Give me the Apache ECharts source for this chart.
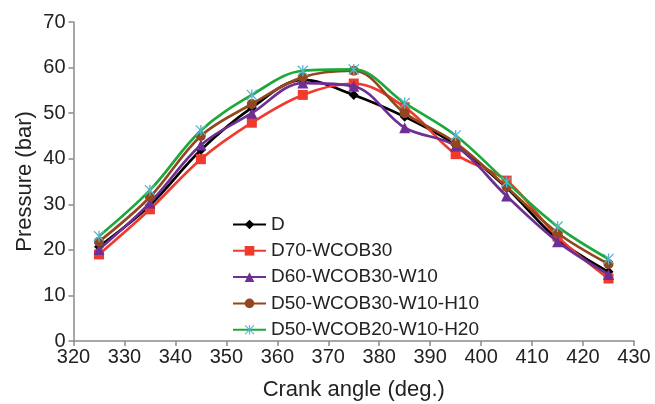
<!DOCTYPE html>
<html>
<head>
<meta charset="utf-8">
<script src="https://cdn.jsdelivr.net/npm/echarts@6/dist/echarts.min.js"></script>
<style>
html,body{margin:0;padding:0;background:#fff;}
#chart{width:655px;height:404px;}
</style>
</head>
<body>
<div id="chart"></div>
<script>
var crankAngles = [325, 335, 345, 355, 365, 375, 385, 395, 405, 415, 425];
var seriesNames = ['D', 'D70-WCOB30', 'D60-WCOB30-W10', 'D50-WCOB30-W10-H10', 'D50-WCOB20-W10-H20'];
var dValues    = [20.7, 29.8, 41.9, 51.2, 57.3, 54.0, 49.2, 43.0, 33.6, 22.3, 15.2];
var d70Values  = [19.0, 28.9, 39.9, 47.9, 54.0, 56.5, 51.3, 41.0, 35.2, 22.9, 13.7];
var d60Values  = [20.1, 30.3, 43.0, 50.0, 56.6, 55.9, 46.8, 42.8, 31.8, 21.8, 14.6];
var d50h10Values = [21.8, 31.6, 45.0, 52.0, 57.9, 59.3, 50.0, 43.5, 33.8, 23.7, 16.9];
var d50h20Values = [23.0, 33.1, 46.2, 54.0, 59.3, 59.6, 52.2, 45.1, 34.9, 25.1, 18.0];
var xTicks = [320, 330, 340, 350, 360, 370, 380, 390, 400, 410, 420, 430];
var yTicks = [0, 10, 20, 30, 40, 50, 60, 70];

var starPath = 'path://M4.4,0 L5.6,0 L5.6,10 L4.4,10 Z M0,0.8 L0.8,0 L10,9.2 L9.2,10 Z M9.2,0 L10,0.8 L0.8,10 L0,9.2 Z';
var FONT = '"Liberation Sans", Arial, sans-serif';

function pairs(vals) {
  return crankAngles.map(function (x, i) { return [x, vals[i]]; });
}

var styles = [
  {data: dValues, color: '#000000', mColor: '#000000', symbol: 'diamond', size: 10},
  {data: d70Values, color: '#ef3a2d', mColor: '#ef3a2d', symbol: 'rect', size: 10},
  {data: d60Values, color: '#6d2f93', mColor: '#6d2f93', symbol: 'triangle', size: 11},
  {data: d50h10Values, color: '#93471f', mColor: '#93471f', symbol: 'circle', size: 10},
  {data: d50h20Values, color: '#1ea83c', mColor: '#55b4cc', symbol: starPath, size: 11}
];

var series = styles.map(function (s, i) {
  return {
    name: seriesNames[i],
    type: 'line',
    data: pairs(s.data),
    smooth: 0.35,
    symbol: s.symbol,
    symbolSize: s.size,
    lineStyle: {color: s.color, width: 2.7},
    itemStyle: {color: s.mColor, borderWidth: 0},
    z: 2 + i
  };
});

var chart = echarts.init(document.getElementById('chart'), null, {renderer: 'canvas'});
chart.setOption({
  animation: false,
  backgroundColor: '#ffffff',
  grid: {left: 73.5, right: 21, top: 22, bottom: 63, containLabel: false, outerBoundsMode: 'none'},
  legend: {
    orient: 'vertical',
    left: 232,
    top: 215,
    padding: 0,
    itemWidth: 33,
    itemHeight: 12,
    itemGap: 7.3,
    data: seriesNames,
    textStyle: {fontFamily: FONT, fontSize: 19, color: '#222', lineHeight: 18}
  },
  xAxis: {
    type: 'value',
    min: 320,
    max: 430,
    interval: 10,
    name: 'Crank angle (deg.)',
    nameLocation: 'middle',
    nameGap: 38,
    nameMoveOverlap: false,
    nameTextStyle: {fontFamily: FONT, fontSize: 22, color: '#222'},
    axisLine: {lineStyle: {color: '#8a8a8a', width: 1.5}},
    axisTick: {show: true, length: 5, lineStyle: {color: '#8a8a8a', width: 1.5}},
    axisLabel: {fontFamily: FONT, fontSize: 20, color: '#222', margin: 6,
      formatter: function (v) { return xTicks.indexOf(v) >= 0 ? String(v) : ''; }},
    splitLine: {show: false}
  },
  yAxis: {
    type: 'value',
    min: 0,
    max: 70,
    interval: 10,
    name: 'Pressure (bar)',
    nameLocation: 'middle',
    nameGap: 38,
    nameMoveOverlap: false,
    nameTextStyle: {fontFamily: FONT, fontSize: 22, color: '#222'},
    axisLine: {show: true, lineStyle: {color: '#8a8a8a', width: 1.5}},
    axisTick: {show: true, length: 5, lineStyle: {color: '#8a8a8a', width: 1.5}},
    axisLabel: {fontFamily: FONT, fontSize: 20, color: '#222', margin: 8,
      formatter: function (v) { return yTicks.indexOf(v) >= 0 ? String(v) : ''; }},
    splitLine: {show: false}
  },
  series: series
});
</script>
</body>
</html>
